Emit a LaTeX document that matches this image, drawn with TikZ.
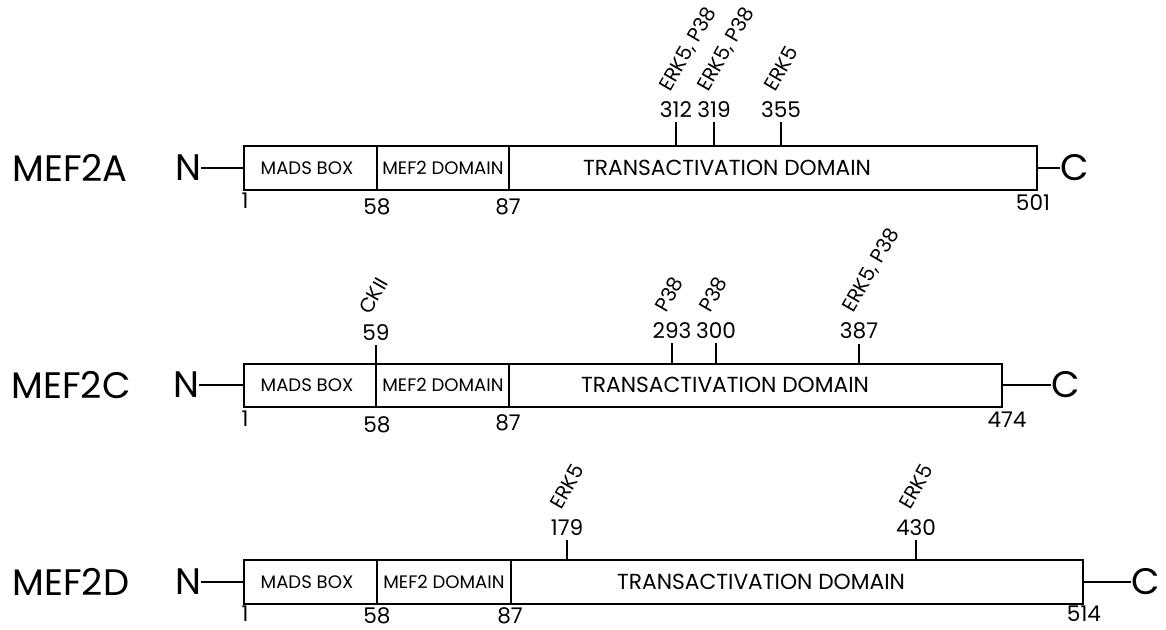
\documentclass[tikz,border=0pt]{standalone}
\usepackage{fontspec}
\setmainfont{Poppins}
\usepackage{tikz}

\begin{document}
\begin{tikzpicture}[
    x=0.02cm, y=-0.02cm,
    protein/.style={font=\fontsize{21}{21}\selectfont, inner sep=0pt},
    terminus/.style={font=\fontsize{21}{21}\selectfont, inner sep=0pt},
    domtext/.style={font=\fontsize{10.3}{10.3}\selectfont, inner sep=0pt},
    transtext/.style={font=\fontsize{12.4}{12.4}\selectfont, inner sep=0pt},
    residue/.style={font=\fontsize{12.3}{12.3}\selectfont, inner sep=2.3pt},
    kinase/.style={font=\fontsize{11.5}{11.5}\selectfont, inner sep=0pt, rotate=60, anchor=base west},
    box/.style={draw, line width=0.6pt},
    link/.style={line width=0.6pt}
]
\useasboundingbox (0,0) rectangle (1166,629);

% MEF2A (top)
\node[protein] (nameA) at (70,168) {MEF2A};
\node[terminus] (nA) at (188,168) {N};
\node[terminus] (cA) at (1075,168) {C};
\coordinate (startA) at (244,168);
\coordinate (endA) at (1037,168);
\draw[box] (244,146) rectangle (1037,190);
\draw[link] (377,146) -- (377,190);
\draw[link] (509,146) -- (509,190);
\draw[link] (nA.east) -- (startA);
\draw[link] (endA) -- (cA.west);

% Domains
\node[domtext] (madsA) at (307,168) {MADS BOX};
\node[domtext] (mefA) at (443,168) {MEF2 DOMAIN};
\node[transtext] (transA) at (727,168) {TRANSACTIVATION DOMAIN};

% Residue numbers
\node[residue] (resA1) at (245,201) {1};
\node[residue] (resA58) at (377,207) {58};
\node[residue] (resA87) at (508,207) {87};
\node[residue] (resA501) at (1033,203) {501};

% Phosphorylation sites
\node[residue] (siteA312) at (676,110) {312};
\node[residue] (siteA319) at (714,110) {319};
\node[residue] (siteA355) at (781,110) {355};
\coordinate (tickA312) at (676,146);
\coordinate (tickA319) at (714,146);
\coordinate (tickA355) at (781,146);
\draw[link] (siteA312.south) -- (tickA312);
\draw[link] (siteA319.south) -- (tickA319);
\draw[link] (siteA355.south) -- (tickA355);
\node[kinase] (kinA312) at (670,93) {ERK5, P38};
\node[kinase] (kinA319) at (708,93) {ERK5, P38};
\node[kinase] (kinA355) at (775,93) {ERK5};

% MEF2C (middle)
\node[protein] (nameC) at (71,385) {MEF2C};
\node[terminus] (nC) at (186,385) {N};
\node[terminus] (cC) at (1066,385) {C};
\coordinate (startC) at (244,385);
\coordinate (endC) at (1002,385);
\draw[box] (244,364) rectangle (1002,407);
\draw[link] (509,364) -- (509,407);
\draw[link] (nC.east) -- (startC);
\draw[link] (endC) -- (cC.west);

% Domains
\node[domtext] (madsC) at (307,385) {MADS BOX};
\node[domtext] (mefC) at (443,385) {MEF2 DOMAIN};
\node[transtext] (transC) at (725,385) {TRANSACTIVATION DOMAIN};

% Residue numbers
\node[residue] (resC1) at (245,419) {1};
\node[residue] (resC58) at (377,425) {58};
\node[residue] (resC87) at (508,423) {87};
\node[residue] (resC474) at (1007,420) {474};

% Phosphorylation sites (59 sits on the domain border)
\node[residue] (siteC59) at (376,333) {59};
\node[residue] (siteC293) at (672,331) {293};
\node[residue] (siteC300) at (716,331) {300};
\node[residue] (siteC387) at (859,331) {387};
\coordinate (tickC59) at (376,407);
\coordinate (tickC293) at (672,364);
\coordinate (tickC300) at (716,364);
\coordinate (tickC387) at (859,364);
\draw[link] (siteC59.south) -- (tickC59);
\draw[link] (siteC293.south) -- (tickC293);
\draw[link] (siteC300.south) -- (tickC300);
\draw[link] (siteC387.south) -- (tickC387);
\node[kinase] (kinC59) at (370,316) {CKII};
\node[kinase] (kinC293) at (666,314) {P38};
\node[kinase] (kinC300) at (710,314) {P38};
\node[kinase] (kinC387) at (853,314) {ERK5, P38};

% MEF2D (bottom)
\node[protein] (nameD) at (71,582) {MEF2D};
\node[terminus] (nD) at (188,582) {N};
\node[terminus] (cD) at (1146,582) {C};
\coordinate (startD) at (244,582);
\coordinate (endD) at (1083,582);
\draw[box] (244,560) rectangle (1083,604);
\draw[link] (377,560) -- (377,604);
\draw[link] (511,560) -- (511,604);
\draw[link] (nD.east) -- (startD);
\draw[link] (endD) -- (cD.west);

% Domains
\node[domtext] (madsD) at (307,582) {MADS BOX};
\node[domtext] (mefD) at (444,582) {MEF2 DOMAIN};
\node[transtext] (transD) at (761,582) {TRANSACTIVATION DOMAIN};

% Residue numbers
\node[residue] (resD1) at (245,614) {1};
\node[residue] (resD58) at (377,616) {58};
\node[residue] (resD87) at (510,616) {87};
\node[residue] (resD514) at (1084,614) {514};

% Phosphorylation sites
\node[residue] (siteD179) at (567,528) {179};
\node[residue] (siteD430) at (916,528) {430};
\coordinate (tickD179) at (567,560);
\coordinate (tickD430) at (916,560);
\draw[link] (siteD179.south) -- (tickD179);
\draw[link] (siteD430.south) -- (tickD430);
\node[kinase] (kinD179) at (561,511) {ERK5};
\node[kinase] (kinD430) at (910,511) {ERK5};

\end{tikzpicture}
\end{document}
